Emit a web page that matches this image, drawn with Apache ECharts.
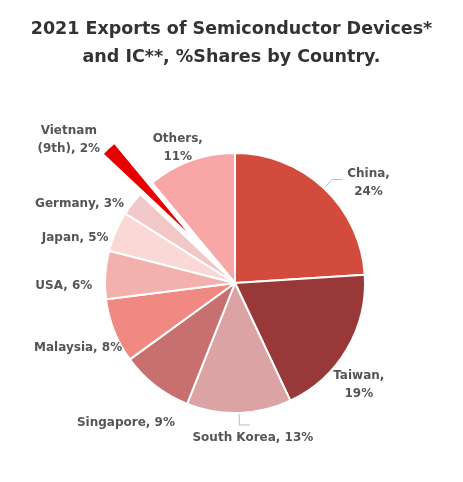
<!DOCTYPE html>
<html>
<head>
<meta charset="utf-8">
<script src="https://cdn.jsdelivr.net/npm/echarts@6/dist/echarts.min.js"></script>
<style>
html,body{margin:0;padding:0;background:#fff;}
#chart{width:463px;height:482px;}
</style>
</head>
<body>
<div id="chart"></div>
<script>
const countries = ['China', 'Taiwan', 'South Korea', 'Singapore', 'Malaysia', 'USA', 'Japan', 'Germany', 'Vietnam', 'Others'];
const shares = [24, 19, 13, 9, 8, 6, 5, 3, 2, 11];
const labelLines = [['China,', '24%'], ['Taiwan,', '19%'], ['South Korea, 13%'], ['Singapore, 9%'], ['Malaysia, 8%'], ['USA, 6%'], ['Japan, 5%'], ['Germany, 3%'], ['Vietnam', '(9th), 2%'], ['Others,', '11%']];

const colors = ['#d24b3c', '#993838', '#dba3a3', '#c86f6f', '#f08982', '#f2b1ad', '#f9d8d6', '#f2c7c7', '#e60000', '#f9a6a6'];
const showLine = [true, false, true, false, false, false, false, false, false, false];
// label nudges relative to ECharts' own outside placement
const nudge = [[0, 3], [-39, 30], [-62, 13], [42, 28], [27, 13], [9, 12], [18, 1], [25, -13], [19, -7], [31, -2]];

const data = countries.map((c, i) => ({
  name: c,
  value: shares[i],
  selected: c === 'Vietnam',
  itemStyle: { color: colors[i] },
  label: { formatter: labelLines[i].map(t => '{c|' + t + '}').join('\n') },
  labelLine: { show: showLine[i] }
}));

const chart = echarts.init(document.getElementById('chart'));
chart.setOption({
  animation: false,
  title: {
    text: '2021 Exports of Semiconductor Devices*\nand IC**, %Shares by Country.',
    left: 'center',
    top: 10,
    textStyle: { fontFamily: 'DejaVu Sans', fontWeight: 'bold', fontSize: 17.5, color: '#333', lineHeight: 28 }
  },
  series: [{
    type: 'pie',
    center: [235, 283],
    radius: [0, 130],
    startAngle: 90,
    clockwise: true,
    selectedMode: 'single',
    selectedOffset: 55,
    itemStyle: { borderColor: '#fff', borderWidth: 2 },
    label: {
      show: true,
      position: 'outside',
      overflow: 'none',
      fontFamily: 'DejaVu Sans',
      fontWeight: 'bold',
      fontSize: 12,
      color: '#555',
      lineHeight: 18,
      rich: {
        c: { align: 'center', fontFamily: 'DejaVu Sans', fontWeight: 'bold', fontSize: 12, color: '#555', lineHeight: 18 }
      }
    },
    labelLine: { length: 12, length2: 10, lineStyle: { color: '#bbb', width: 1 } },
    labelLayout: function (p) {
      const n = nudge[p.dataIndex];
      return { dx: n[0], dy: n[1] };
    },
    data: data
  }]
});
</script>
</body>
</html>
